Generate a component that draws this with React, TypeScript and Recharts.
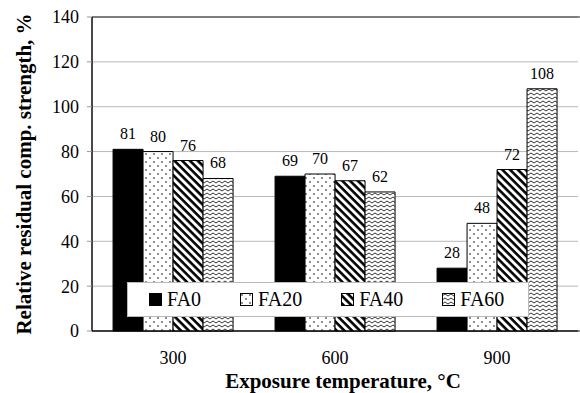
import React from "react";
import {
  BarChart,
  Bar,
  XAxis,
  YAxis,
  CartesianGrid,
  Legend,
  LabelList,
  ReferenceArea,
} from "recharts";

const temperatures = ["300", "600", "900"];
const fa0 = [81, 69, 28];
const fa20 = [80, 70, 48];
const fa40 = [76, 67, 72];
const fa60 = [68, 62, 108];
const yTicks = [0, 20, 40, 60, 80, 100, 120, 140];
const series = [
  { key: "FA0", fill: "#000" },
  { key: "FA20", fill: "url(#dots)" },
  { key: "FA40", fill: "url(#hatch)" },
  { key: "FA60", fill: "url(#waves)" },
];

const data = temperatures.map((t, i) => ({
  temp: t,
  FA0: fa0[i],
  FA20: fa20[i],
  FA40: fa40[i],
  FA60: fa60[i],
}));

const FONT = "Liberation Serif";

const Patterns = () => (
  <defs>
    <pattern id="dots" width="8" height="8" patternUnits="userSpaceOnUse">
      <rect width="8" height="8" fill="#fff" />
      <circle cx="2" cy="2" r="0.8" fill="#000" />
      <circle cx="6" cy="6" r="0.8" fill="#000" />
    </pattern>
    <pattern
      id="hatch"
      width="5.5"
      height="5.5"
      patternUnits="userSpaceOnUse"
      patternTransform="rotate(45)"
    >
      <rect width="5.5" height="5.5" fill="#fff" />
      <rect width="5.5" height="2.6" fill="#000" />
    </pattern>
    <pattern id="waves" width="6" height="4" patternUnits="userSpaceOnUse">
      <rect width="6" height="4" fill="#fff" />
      <polyline points="0,3 3,1 6,3" fill="none" stroke="#000" strokeWidth="0.8" />
    </pattern>
  </defs>
);

const LegendBox = () => (
  <div
    style={{
      width: 402,
      height: 35,
      background: "#fff",
      border: "1px solid #bbb",
      boxSizing: "border-box",
      display: "flex",
      alignItems: "center",
      paddingLeft: 21,
      gap: 39,
      fontFamily: FONT,
      fontSize: 20,
      color: "#000",
    }}
  >
    {series.map((s) => (
      <div key={s.key} style={{ display: "flex", alignItems: "center", gap: 5 }}>
        <svg width={13} height={13}>
          <rect x={0.5} y={0.5} width={12} height={12} fill={s.fill} stroke="#000" />
        </svg>
        <span>{s.key}</span>
      </div>
    ))}
  </div>
);

export default function App() {
  return (
    <div style={{ width: 580, height: 393, fontFamily: FONT }}>
      <style>{"body{margin:0}"}</style>
      <BarChart
        width={580}
        height={393}
        data={data}
        margin={{ top: 17, right: 2, bottom: 0, left: 0 }}
        barCategoryGap="13%"
        barGap={0}
      >
        <Patterns />
        <CartesianGrid vertical={false} stroke="#b8b8b8" />
        <XAxis
          xAxisId="bounds"
          type="number"
          domain={[0, 3]}
          ticks={[0, 1, 2, 3]}
          tick={false}
          axisLine={false}
          tickLine={{ stroke: "#999" }}
          tickSize={6}
          height={0}
        />
        <XAxis
          dataKey="temp"
          tickLine={false}
          axisLine={{ stroke: "#000" }}
          tick={{ fill: "#000", fontSize: 18, fontFamily: FONT }}
          tickMargin={14}
          height={62}
          label={{
            value: "Exposure temperature, °C",
            position: "insideBottom",
            offset: 5,
            dx: 8,
            fill: "#000",
            fontSize: 21,
            fontWeight: "bold",
            fontFamily: FONT,
          }}
        />
        <YAxis
          width={92}
          domain={[0, 140]}
          ticks={yTicks}
          interval={0}
          axisLine={{ stroke: "#000" }}
          tickLine={{ stroke: "#999" }}
          tickSize={5}
          tickMargin={8}
          tick={{ fill: "#000", fontSize: 18, fontFamily: FONT }}
          label={{
            content: (props: any) => {
              const vb = props.viewBox;
              const cx = vb.x + 24;
              const cy = vb.y + vb.height / 2;
              return (
                <text
                  x={cx}
                  y={cy}
                  transform={`rotate(-90 ${cx} ${cy})`}
                  textAnchor="middle"
                  dominantBaseline="central"
                  fill="#000"
                  fontSize={21}
                  fontWeight="bold"
                  fontFamily={FONT}
                >
                  Relative residual comp. strength, %
                </text>
              );
            },
          }}
        />
        <ReferenceArea
          xAxisId="bounds"
          x1={0}
          x2={3}
          y1={0}
          y2={140}
          fill="none"
          stroke="#222"
          strokeWidth={1}
          ifOverflow="visible"
        />
        <Legend
          layout="horizontal"
          verticalAlign="middle"
          align="center"
          content={() => <LegendBox />}
          wrapperStyle={{ left: 127, top: 282, width: 402, height: 35 }}
        />
        {series.map((s) => (
          <Bar
            key={s.key}
            dataKey={s.key}
            fill={s.fill}
            stroke="#000"
            strokeWidth={1}
            isAnimationActive={false}
          >
            <LabelList
              dataKey={s.key}
              position="top"
              offset={10}
              fill="#000"
              fontSize={16}
              fontFamily={FONT}
            />
          </Bar>
        ))}
      </BarChart>
    </div>
  );
}
